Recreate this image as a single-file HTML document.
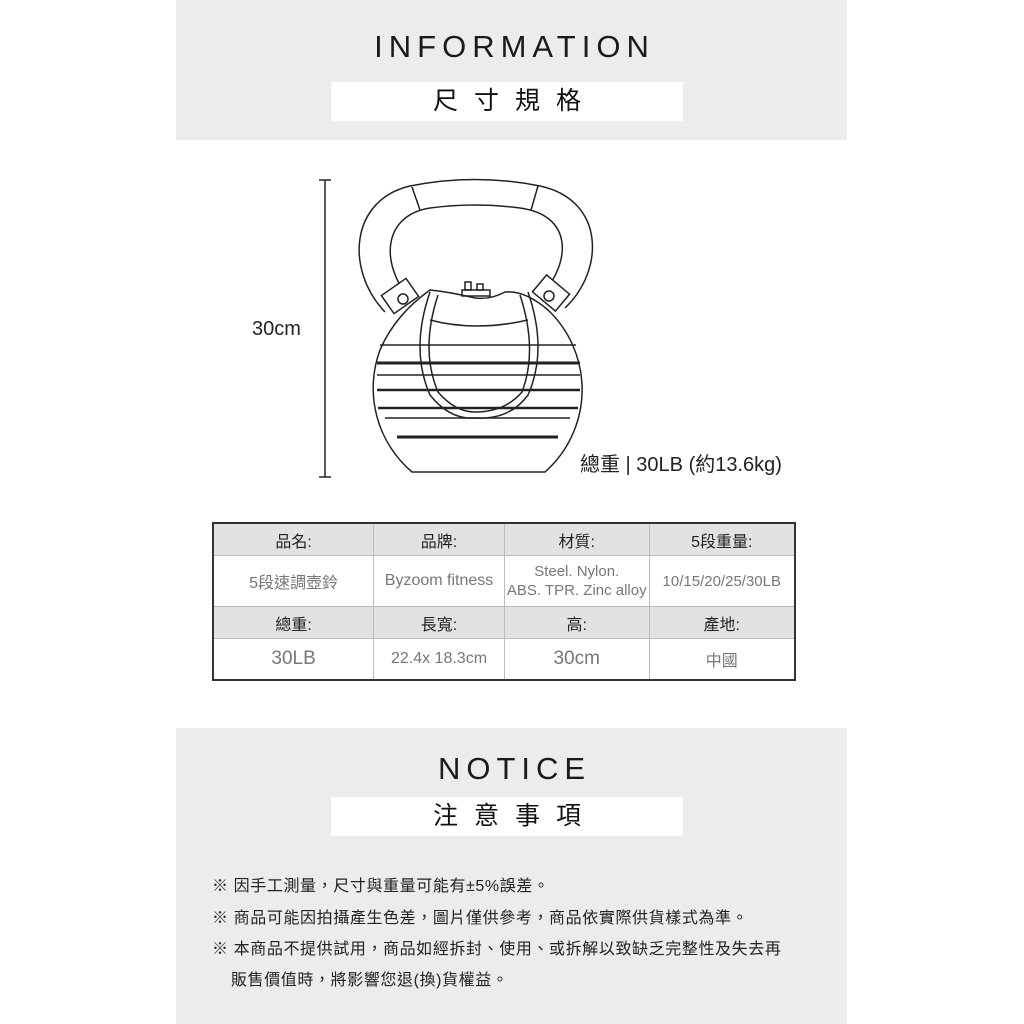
<!DOCTYPE html>
<html><head><meta charset="utf-8"><style>
body{margin:0;width:1024px;height:1024px;background:#fff;position:relative;overflow:hidden;font-family:"Liberation Sans","Noto Sans CJK TC",sans-serif;color:#222}
.p{position:absolute}
.gray{background:#ececec;left:176px;width:671px}
.t{font-size:31px;letter-spacing:6px;text-align:center;width:671px;left:176px;color:#1a1a1a;padding-left:6px;box-sizing:border-box}
.wb{background:#fff;left:331px;width:352px;height:39px;text-align:center;font-size:25px;letter-spacing:16px;padding-left:16px;box-sizing:border-box;line-height:39px;color:#111}
table{border-collapse:collapse;position:absolute;left:212px;top:522px;width:584px}
td{border:1px solid #bbb;text-align:center;padding:0;color:#777;font-size:16px}
tr.h td{background:#e2e2e2;color:#222;height:31px;font-size:16px}
table{border:2px solid #333}
.n{font-size:16px;letter-spacing:0.6px;left:212px;color:#222}
</style></head><body>
<div class="p gray" style="top:0;height:140px"></div>
<div class="p t" style="top:29px">INFORMATION</div>
<div class="p wb" style="top:82px">尺寸規格</div>

<svg class="p" style="left:0;top:0" width="1024" height="520">
<g stroke="#222" stroke-width="1.5" fill="none">
<line x1="325" y1="180" x2="325" y2="477"/><line x1="319" y1="180" x2="331" y2="180"/><line x1="319" y1="477" x2="331" y2="477"/>
<path d="M385 312 C345 270 350 200 410 186 Q475 173 540 186 C605 200 605 270 565 308"/>
<path d="M410 300 C378 260 385 215 430 208 Q475 202 520 208 C572 215 572 260 542 295"/>
<line x1="412" y1="187" x2="420" y2="210"/><line x1="538" y1="186" x2="531" y2="210"/>
<rect x="385" y="285" width="30" height="22" transform="rotate(-35 400 296)" fill="#fff"/>
<circle cx="403" cy="299" r="5"/>
<rect x="536" y="282" width="30" height="22" transform="rotate(40 551 293)" fill="#fff"/>
<circle cx="549" cy="296" r="5"/>
<path d="M430 290 Q395 315 380 350 A110 110 0 0 0 412 472 L545 472 A110 110 0 0 0 548 310 Q525 290 505 292 Q490 300 475 298 Q450 292 430 290Z" fill="#fff"/>
<path d="M462 296 h28 v-6 h-28z"/><rect x="465" y="282" width="6" height="8"/><rect x="477" y="284" width="6" height="6"/>
<path d="M430 320 Q475 332 528 320"/>
<path d="M430 292 Q410 350 430 395 Q450 420 475 418 Q510 420 528 395 Q548 350 528 292"/>
<path d="M438 295 Q420 350 438 392 Q455 412 475 412 Q505 412 522 392 Q538 350 520 295"/>
<line x1="380" y1="345" x2="576" y2="345"/>
<line x1="377" y1="363" x2="580" y2="363" stroke-width="3"/>
<line x1="377" y1="375" x2="580" y2="375"/>
<line x1="377" y1="390" x2="580" y2="390" stroke-width="2.5"/>
<line x1="378" y1="408" x2="578" y2="408" stroke-width="2.5"/>
<line x1="385" y1="418" x2="570" y2="418"/>
<line x1="397" y1="437" x2="558" y2="437" stroke-width="3"/>
</g>
<text x="252" y="335" font-size="20" fill="#222" font-family="Liberation Sans">30cm</text>
<text x="580" y="471" font-size="20" fill="#222" font-family="Liberation Sans,Noto Sans CJK TC">總重 | 30LB (約13.6kg)</text>
</svg>

<table>
<colgroup><col style="width:161px"><col style="width:131px"><col style="width:145px"><col style="width:146px"></colgroup>
<tr class="h"><td>品名:</td><td>品牌:</td><td>材質:</td><td>5段重量:</td></tr>
<tr style="height:51px"><td>5段速調壺鈴</td><td>Byzoom fitness</td><td style="font-size:15px;line-height:19px">Steel. Nylon.<br>ABS. TPR. Zinc alloy</td><td style="font-size:15px">10/15/20/25/30LB</td></tr>
<tr class="h"><td>總重:</td><td>長寬:</td><td>高:</td><td>產地:</td></tr>
<tr style="height:41px"><td style="font-size:19px">30LB</td><td>22.4x 18.3cm</td><td style="font-size:19px">30cm</td><td>中國</td></tr>
</table>

<div class="p gray" style="top:728px;height:296px"></div>
<div class="p t" style="top:751px">NOTICE</div>
<div class="p wb" style="top:797px">注意事項</div>
<div class="p n" style="top:872px">※ 因手工測量，尺寸與重量可能有±5%誤差。</div>
<div class="p n" style="top:904px">※ 商品可能因拍攝產生色差，圖片僅供參考，商品依實際供貨樣式為準。</div>
<div class="p n" style="top:935px">※ 本商品不提供試用，商品如經拆封、使用、或拆解以致缺乏完整性及失去再</div>
<div class="p n" style="top:966px;left:231px">販售價值時，將影響您退(換)貨權益。</div>
</body></html>
